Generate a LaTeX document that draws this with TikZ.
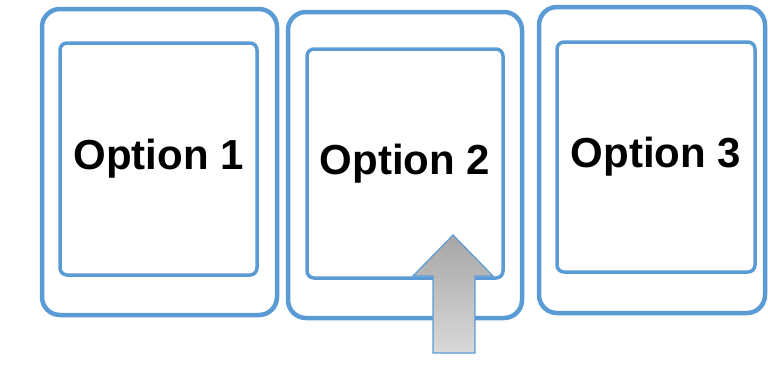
\documentclass[tikz,border=0pt]{standalone}
\usepackage{fontspec}
\setmainfont{Liberation Sans}
\definecolor{boxblue}{HTML}{5B9BD5}
\tikzset{
  outerbox/.style={draw=boxblue,line width=4.5pt,rounded corners=18pt},
  innerbox/.style={draw=boxblue,line width=3.5pt,rounded corners=7pt,
    font=\bfseries\fontsize{42}{48}\selectfont}
}
\begin{document}
\begin{tikzpicture}[x=1pt,y=-1pt]
    \useasboundingbox (0,0) rectangle (768,364);
    \node[outerbox,minimum width=235pt,minimum height=306pt] (out1) at (159.5,162) {};
    \node[outerbox,minimum width=234pt,minimum height=306pt] (out2) at (405,165) {};
    \node[outerbox,minimum width=226pt,minimum height=306pt] (out3) at (652,160) {};
    \node[innerbox,minimum width=197pt,minimum height=232pt] (in1) at (158.5,159) {Option 1};
    \node[innerbox,minimum width=196pt,minimum height=229pt] (in2) at (405,163.5) {Option 2};
    \node[innerbox,minimum width=198pt,minimum height=230pt] (in3) at (656,157) {Option 3};
    % arrow pointing up into option 2
    \draw[boxblue,line width=1.2pt,top color=black!35,bottom color=black!15]
      (433,353) -- (433,276) -- (413,276) -- (453,235) -- (493,276) -- (475,276) -- (475,353) -- cycle;
\end{tikzpicture}
\end{document}
